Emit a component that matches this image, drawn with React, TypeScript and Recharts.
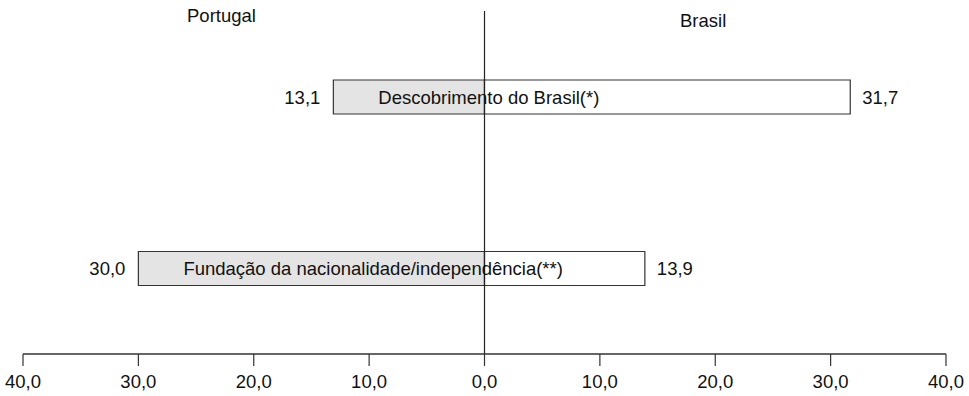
import React from 'react';
import { BarChart, Bar, XAxis, YAxis, ReferenceLine, LabelList } from 'recharts';

const categories = ['Descobrimento do Brasil(*)', 'Fundação da nacionalidade/independência(**)'];
const portugal = [13.1, 30.0];
const brasil = [31.7, 13.9];
const axisTicks = [-40, -30, -20, -10, 0, 10, 20, 30, 40];

const data = categories.map((name, i) => ({ name, portugal: -portugal[i], brasil: brasil[i] }));

const FONT = "'Liberation Sans', Arial, sans-serif";
const SIZE = 18.5;
const fmt = (v: number) => Math.abs(v).toFixed(1).replace('.', ',');

const LeftValue = (props: any) => {
  const { x, y, width, height, value } = props;
  const left = Math.min(x, x + width);
  return (
    <text x={left - 13} y={y + height / 2} textAnchor="end" dominantBaseline="central"
      fontFamily={FONT} fontSize={SIZE} fill="#111">
      {fmt(value)}
    </text>
  );
};

const RightValue = (props: any) => {
  const { x, y, width, height, value } = props;
  const right = Math.max(x, x + width);
  return (
    <text x={right + 12} y={y + height / 2} textAnchor="start" dominantBaseline="central"
      fontFamily={FONT} fontSize={SIZE} fill="#111">
      {fmt(value)}
    </text>
  );
};

const NameLabel = (props: any) => {
  const { x, y, width, height, value } = props;
  const left = Math.min(x, x + width);
  return (
    <text x={left + 45} y={y + height / 2} textAnchor="start" dominantBaseline="central"
      fontFamily={FONT} fontSize={SIZE} fill="#111">
      {value}
    </text>
  );
};

export default function App() {
  return (
    <div style={{ position: 'absolute', left: 0, top: 0, width: 969, height: 396, background: '#fff', fontFamily: FONT }}>
      <div style={{ position: 'absolute', left: 187, top: 7, fontSize: SIZE, lineHeight: 1, color: '#111' }}>Portugal</div>
      <div style={{ position: 'absolute', left: 680, top: 12, fontSize: SIZE, lineHeight: 1, color: '#111' }}>Brasil</div>
      <BarChart
        width={969}
        height={396}
        data={data}
        layout="vertical"
        stackOffset="sign"
        barSize={34}
        margin={{ top: 11, right: 23, bottom: 0, left: 23 }}
      >
        <XAxis
          type="number"
          domain={[-40, 40]}
          ticks={axisTicks}
          tickFormatter={fmt}
          height={42}
          tickSize={12}
          tickMargin={9}
          axisLine={{ stroke: '#333', strokeWidth: 1.5 }}
          tickLine={{ stroke: '#333', strokeWidth: 1.2 }}
          tick={{ fill: '#111', fontSize: SIZE, fontFamily: FONT }}
          interval={0}
        />
        <YAxis type="category" dataKey="name" hide />
        <Bar dataKey="portugal" stackId="a" fill="#e4e4e4" stroke="#333" strokeWidth={1.2} isAnimationActive={false}>
          <LabelList dataKey="portugal" content={LeftValue} />
          <LabelList dataKey="name" content={NameLabel} />
        </Bar>
        <Bar dataKey="brasil" stackId="a" fill="#ffffff" stroke="#333" strokeWidth={1.2} isAnimationActive={false}>
          <LabelList dataKey="brasil" content={RightValue} />
        </Bar>
        <ReferenceLine x={0} stroke="#222" strokeWidth={1.2} />
      </BarChart>
    </div>
  );
}
